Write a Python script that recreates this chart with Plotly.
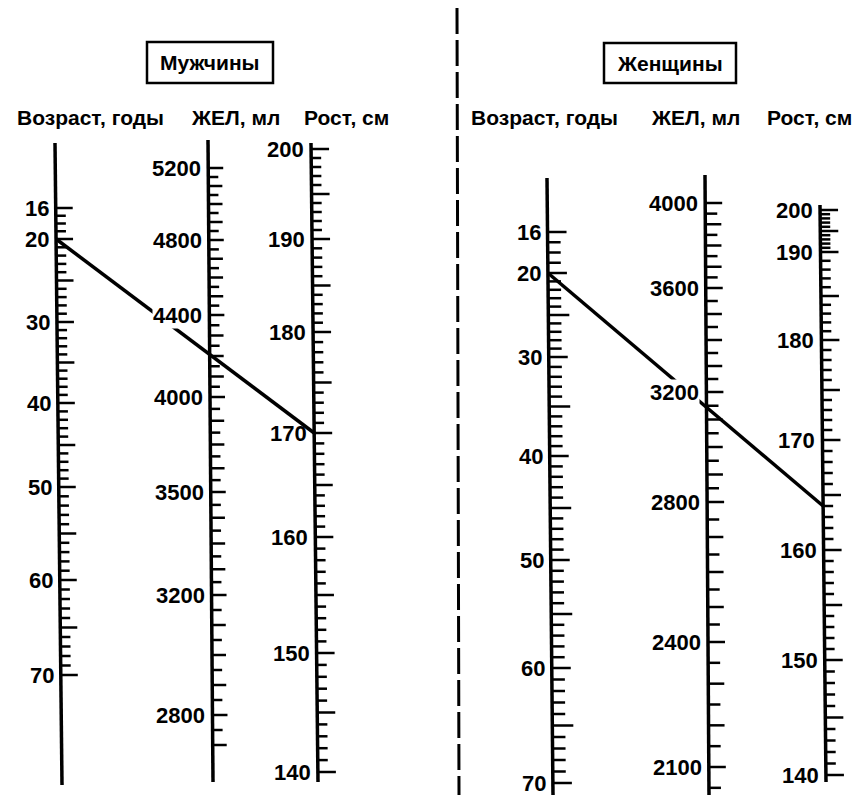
import numpy as np
import plotly.graph_objects as go

# ---------------- DATA ----------------
men_age_labels = [16, 20, 30, 40, 50, 60, 70]
men_vc_labels = [5200, 4800, 4400, 4000, 3500, 3200, 2800]
men_height_labels = [200, 190, 180, 170, 160, 150, 140]

women_age_labels = [16, 20, 30, 40, 50, 60, 70]
women_vc_labels = [4000, 3600, 3200, 2800, 2400, 2100]
women_height_labels = [200, 190, 180, 170, 160, 150, 140]

men_example_age = 20
men_example_height = 170
women_example_age = 20
women_example_height = 164

panel_titles = ["Мужчины", "Женщины"]
scale_titles = ["Возраст, годы", "ЖЕЛ, мл", "Рост, см"]

# ---------------- LAYOUT / GEOMETRY ----------------
scales = {
    "m_age": dict(vals=men_age_labels, ys=[208, 239, 322, 403, 487, 580, 675],
                  line=(55, 143, 62, 785), subs=[4, 10, 10, 10, 10, 10], every=5, extra=0,
                  tl=(17, 17, 10), mask=False),
    "m_vc": dict(vals=men_vc_labels, ys=[168, 240, 315, 397, 492, 595, 715],
                 line=(208, 140, 213, 782), subs=[8, 8, 8, 8, 8, 8], every=2, extra=2,
                 tl=(15, 14, 10), mask=True),
    "m_h": dict(vals=men_height_labels, ys=[149, 239, 332, 433, 537, 653, 772],
                line=(311, 143, 318, 782), subs=[10, 10, 10, 10, 10, 10], every=5, extra=0,
                tl=(18, 18, 10), mask=False),
    "w_age": dict(vals=women_age_labels, ys=[232, 273, 357, 456, 560, 668, 783],
                  line=(547, 178, 553, 795), subs=[4, 10, 10, 10, 10, 10], every=5, extra=0,
                  tl=(19, 21, 13), mask=False),
    "w_vc": dict(vals=women_vc_labels, ys=[203, 288, 392, 502, 642, 767],
                 line=(705, 175, 709, 795), subs=[8, 8, 8, 8, 6], every=2, extra=1,
                 tl=(17, 16, 12), mask=True),
    "w_h": dict(vals=women_height_labels, ys=[210, 252, 340, 440, 550, 660, 775],
                line=(820, 205, 826, 782), subs=[10, 10, 10, 10, 10, 10], every=5, extra=0,
                tl=(18, 18, 10), mask=False),
}


def axis_x(sc, y):
    x0, y0, x1, y1 = sc["line"]
    return x0 + (x1 - x0) * (y - y0) / (y1 - y0)


def value_to_y(sc, v):
    vals = np.array(sc["vals"], dtype=float)
    ys = np.array(sc["ys"], dtype=float)
    order = np.argsort(vals)
    return float(np.interp(v, vals[order], ys[order]))


FONT = "Arial, Liberation Sans, sans-serif"
fig = go.Figure()
annotations = []
shapes = []

for key, sc in scales.items():
    x0, y0, x1, y1 = sc["line"]
    fig.add_trace(go.Scatter(x=[x0, x1], y=[y0, y1], mode="lines",
                             line=dict(color="black", width=3.5), hoverinfo="skip",
                             showlegend=False))
    tx, ty = [], []
    ys = sc["ys"]
    lab_len, long_len, short_len = sc["tl"]
    for i in range(len(ys) - 1):
        n = sc["subs"][i]
        for j in range(n):
            y = ys[i] + (ys[i + 1] - ys[i]) * j / n
            ln = lab_len if j == 0 else (long_len if j % sc["every"] == 0 else short_len)
            xa = axis_x(sc, y)
            tx += [xa, xa + ln, None]
            ty += [y, y, None]
    yl = ys[-1]
    xa = axis_x(sc, yl)
    tx += [xa, xa + lab_len, None]
    ty += [yl, yl, None]
    step = (ys[-1] - ys[-2]) / sc["subs"][-1]
    for k in range(1, sc["extra"] + 1):
        y = yl + step * k
        ln = long_len if k % sc["every"] == 0 else short_len
        xa = axis_x(sc, y)
        tx += [xa, xa + ln, None]
        ty += [y, y, None]
    fig.add_trace(go.Scatter(x=tx, y=ty, mode="lines",
                             line=dict(color="black", width=2.5), hoverinfo="skip",
                             showlegend=False))
    for v, y in zip(sc["vals"], ys):
        annotations.append(dict(x=axis_x(sc, y) - 6, y=y, xref="x", yref="y",
                                text=str(v), showarrow=False, xanchor="right",
                                yanchor="middle",
                                bgcolor="white" if sc["mask"] else "rgba(0,0,0,0)",
                                borderpad=0,
                                font=dict(family=FONT, size=22, color="black", weight="bold")))

for age_key, h_key, age, h in [("m_age", "m_h", men_example_age, men_example_height),
                               ("w_age", "w_h", women_example_age, women_example_height)]:
    sa, sh = scales[age_key], scales[h_key]
    ya, yh = value_to_y(sa, age), value_to_y(sh, h)
    fig.add_trace(go.Scatter(x=[axis_x(sa, ya), axis_x(sh, yh)], y=[ya, yh], mode="lines",
                             line=dict(color="black", width=3.5), hoverinfo="skip",
                             showlegend=False))

for title, (bx0, by0, bx1, by1) in zip(panel_titles, [(147, 42, 273, 83), (604, 43, 736, 83)]):
    shapes.append(dict(type="rect", xref="x", yref="y", x0=bx0, y0=by0, x1=bx1, y1=by1,
                       line=dict(color="black", width=2.5), layer="above"))
    annotations.append(dict(x=(bx0 + bx1) / 2, y=(by0 + by1) / 2, xref="x", yref="y",
                            text=title, showarrow=False, xanchor="center", yanchor="middle",
                            font=dict(family=FONT, size=21, color="black", weight="bold")))

for cx, txt in zip([90, 235, 346, 544, 695, 809], scale_titles * 2):
    annotations.append(dict(x=cx, y=117, xref="x", yref="y", text=txt, showarrow=False,
                            xanchor="center", yanchor="middle",
                            font=dict(family=FONT, size=21, color="black", weight="bold")))

shapes.append(dict(type="line", xref="x", yref="y", x0=457, y0=8, x1=459, y1=795,
                   line=dict(color="black", width=3, dash="26px,6px")))

fig.update_layout(
    width=861, height=795, margin=dict(l=0, r=0, t=0, b=0),
    paper_bgcolor="white", plot_bgcolor="white",
    xaxis=dict(range=[0, 861], visible=False, fixedrange=True),
    yaxis=dict(range=[795, 0], visible=False, fixedrange=True),
    annotations=annotations, shapes=shapes, showlegend=False,
)
fig.write_html("out.html", config={"displayModeBar": False, "staticPlot": True},
               post_script="document.body.style.margin='0';document.body.style.overflow='hidden';")
